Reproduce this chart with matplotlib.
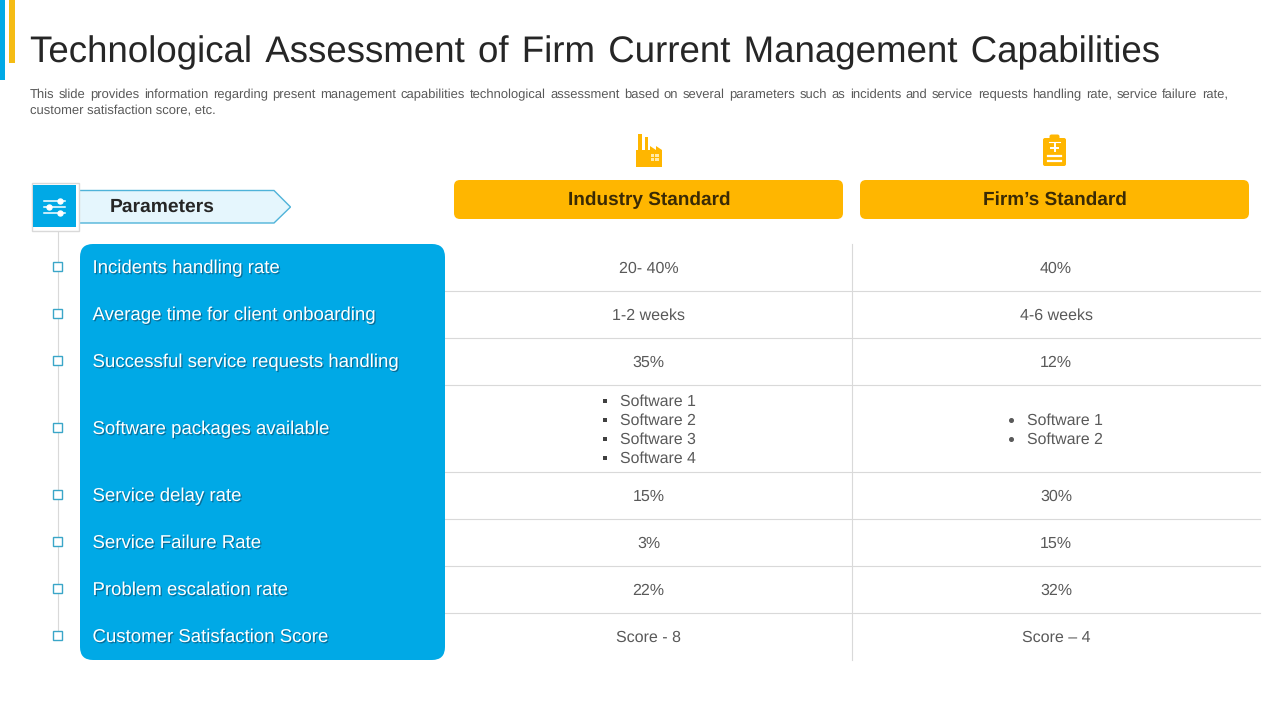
"""Slide table: technological assessment of firm management capabilities."""
import matplotlib
matplotlib.use("Agg")
import matplotlib.pyplot as plt
import matplotlib.patheffects as pe
from matplotlib.patches import FancyBboxPatch, Polygon, Rectangle

plt.rcParams["font.family"] = ["Liberation Sans", "DejaVu Sans"]
plt.rcParams["text.hinting"] = "no_hinting"

BLUE = "#00A9E6"
AMBER = "#FFB600"
DARK = "#262626"
GREY = "#595959"
RULE = "#D9D9D9"

TITLE = "Technological Assessment of Firm Current Management Capabilities"
DESC_1 = ("This slide provides information regarding present management capabilities technological "
          "assessment based on several parameters such as incidents and service requests handling "
          "rate, service failure rate,")
DESC_2 = "customer satisfaction score, etc."

COLUMNS = ["Industry Standard", "Firm\u2019s Standard"]
PARAMETERS = [
    "Incidents handling rate",
    "Average time for client onboarding",
    "Successful service requests handling",
    "Software packages available",
    "Service delay rate",
    "Service Failure Rate",
    "Problem escalation rate",
    "Customer Satisfaction Score",
]
INDUSTRY = ["20- 40%", "1-2 weeks", "35%", None, "15%", "3%", "22%", "Score - 8"]
FIRM = ["40%", "4-6 weeks", "12%", None, "30%", "15%", "32%", "Score \u2013 4"]
INDUSTRY_SW = ["Software 1", "Software 2", "Software 3", "Software 4"]
FIRM_SW = ["Software 1", "Software 2"]

ROW_Y = [267, 314, 361, 428, 495, 542, 589, 636]
RULE_Y = [290.5, 337.5, 384.5, 471.5, 518.5, 565.5, 612.5]


def justify(ax, fig, s, x0, x1, y, size, color):
    """Spread the words of s so the line runs from x0 to x1, like a justified slide line."""
    words = s.split(" ")
    r = fig.canvas.get_renderer()
    items = [ax.text(0, y, w, fontsize=size, color=color, va="baseline", ha="left") for w in words]
    widths = [t.get_window_extent(r).width for t in items]
    gap = (x1 - x0 - sum(widths)) / (len(words) - 1)
    x = x0
    for t, w in zip(items, widths):
        t.set_x(x)
        x += w + gap


def rounded(ax, x, y, w, h, rad, **kw):
    ax.add_patch(FancyBboxPatch((x + rad, y + rad), w - 2 * rad, h - 2 * rad,
                                boxstyle=f"round,pad={rad},rounding_size={rad}", **kw))


def main():
    fig = plt.figure(figsize=(12.8, 7.2), dpi=100)
    ax = fig.add_axes([0, 0, 1, 1])
    ax.set_xlim(0, 1280)
    ax.set_ylim(720, 0)
    ax.axis("off")
    fig.canvas.draw()

    # corner accent bars
    ax.add_patch(Rectangle((0, 0), 5, 80, fc=BLUE, ec="none"))
    ax.add_patch(Rectangle((9, 0), 5.5, 63, fc="#F5BC14", ec="none"))

    # one string so the title keeps a single baseline; hair spaces widen the word gaps
    ax.text(30, 62.5, TITLE.replace(" ", " \u200a"), fontsize=26.35, color=DARK, va="baseline")
    justify(ax, fig, DESC_1, 30, 1228, 98, 9.4, GREY)
    ax.text(30, 114.5, DESC_2, fontsize=9.4, color=GREY, va="baseline")

    # timeline on the left
    ax.plot([57.5, 57.5], [230, 637], color=RULE, lw=0.8, zorder=1)
    for y in ROW_Y:
        ax.add_patch(Rectangle((53, y - 5), 9, 9, fc="white", ec="#3AA6C8", lw=1, zorder=2))

    # parameters header
    ax.add_patch(Polygon([(78, 190.5), (274, 190.5), (290.5, 207), (274, 223), (78, 223)],
                         closed=True, fc="#E5F6FD", ec="#4FB3D9", lw=1, zorder=2))
    ax.add_patch(Rectangle((31.5, 182.5), 47, 48, fc="white", ec="#D9D9D9", lw=1, zorder=3))
    ax.add_patch(Rectangle((33, 185), 43, 42, fc=BLUE, ec="none", zorder=4))
    for y, xd in [(200.5, 60), (207, 49), (213, 60)]:
        ax.plot([44, 65], [y, y], color="white", lw=1.1, zorder=5)
        ax.plot([xd], [y], "o", color="white", ms=3.6, zorder=5)
    ax.text(110, 212, "Parameters", fontsize=13.9, fontweight="bold", color=DARK, va="baseline", zorder=5)

    # blue parameter block
    rounded(ax, 80, 244, 365, 416, 13, fc=BLUE, ec="none", zorder=2)
    shadow = [pe.SimplePatchShadow(offset=(0.9, -0.9), shadow_rgbFace="#0B5F86", alpha=0.8), pe.Normal()]
    for y, label in zip(ROW_Y, PARAMETERS):
        ax.text(92.5, y + 6, label, fontsize=13.4, color="white", va="baseline", zorder=3, path_effects=shadow)

    # column headers
    for x, label in zip([454, 860], COLUMNS):
        rounded(ax, x, 180, 389, 39, 6, fc=AMBER, ec="none")
        ax.text(x + 195, 205, label, fontsize=13.7, fontweight="bold", color="#3A2A05", ha="center", va="baseline")

    # factory icon
    ax.add_patch(Polygon([(636, 167), (636, 150), (638, 150), (638, 134), (642, 134), (642, 150),
                          (645, 150), (645, 137), (648, 137), (648, 150), (650, 150), (650, 146),
                          (656, 150), (656, 146), (662, 150), (662, 167)],
                         closed=True, fc=AMBER, ec="none"))
    for cx in (652.5, 657):
        for cy in (155, 159):
            ax.add_patch(Rectangle((cx - 1.6, cy - 1.5), 3.2, 3, fc="#FFE9A8", ec="none"))

    # clipboard icon
    rounded(ax, 1043, 138, 23, 28, 2, fc=AMBER, ec="none")
    rounded(ax, 1049.5, 134.5, 10, 6, 2, fc=AMBER, ec="none")
    ax.plot([1049, 1060], [141.5, 141.5], color="white", lw=0.8)
    ax.plot([1051, 1058], [147.5, 147.5], color="white", lw=1.4)
    ax.plot([1054.5, 1054.5], [144, 151], color="white", lw=1.4)
    for y in (155.5, 161):
        ax.plot([1048, 1061], [y, y], color="white", lw=1.6)

    # table rules
    for y in RULE_Y:
        ax.plot([445, 1260], [y, y], color=RULE, lw=0.8, zorder=1)
    ax.plot([851.8, 851.8], [244, 660], color=RULE, lw=0.8, zorder=1)

    # values
    cell = dict(fontsize=11.5, color=GREY, ha="center", va="baseline")
    for y, a, b in zip(ROW_Y, INDUSTRY, FIRM):
        if a is not None:
            ax.text(648.5, y + 6, a, **cell)
        if b is not None:
            ax.text(1056, y + 6, b, **cell)

    for i, s in enumerate(INDUSTRY_SW):
        y = 400.5 + i * 19
        ax.add_patch(Rectangle((602.5, y - 2), 4, 4, fc="#404040", ec="none"))
        ax.text(620, y + 5, s, fontsize=11.4, color=GREY, va="baseline")
    for i, s in enumerate(FIRM_SW):
        y = 419.5 + i * 19
        ax.plot([1011], [y], "o", color=GREY, ms=2.6)
        ax.text(1027, y + 5, s, fontsize=11.4, color=GREY, va="baseline")

    fig.savefig("out.png", dpi=100, facecolor="white")


if __name__ == "__main__":
    main()
